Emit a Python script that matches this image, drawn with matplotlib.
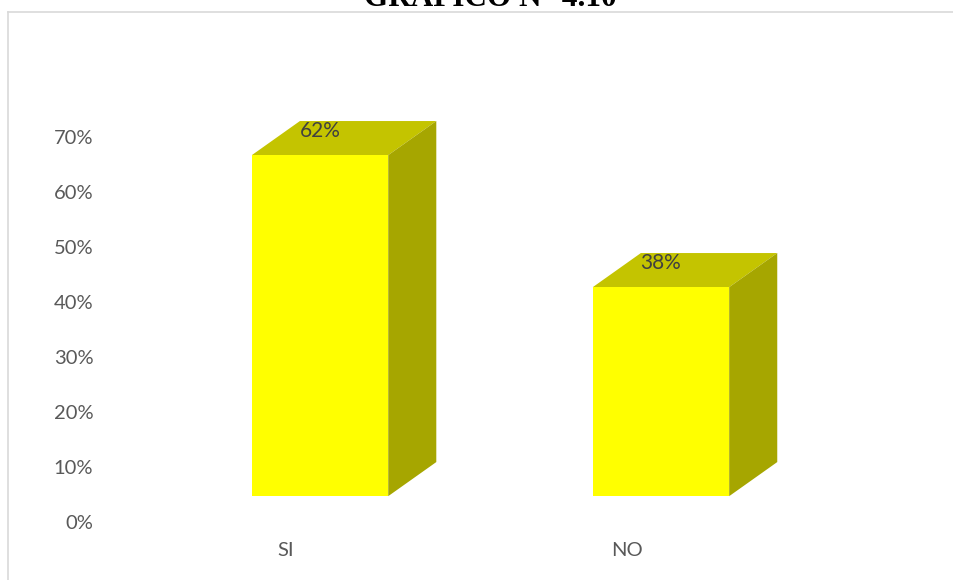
import matplotlib
matplotlib.use("Agg")
import matplotlib.pyplot as plt
from matplotlib.patches import Polygon

categories = ["SI", "NO"]
values = [62, 38]
labels = ["62%", "38%"]
yticks = [0, 10, 20, 30, 40, 50, 60, 70]
title = "GRÁFICO N° 4.10"

# 3d look (data units)
width = 0.40
depth_x = 0.141
depth_y = 6.2
floor = 4.7
front_c = "#FFFF00"
top_c = "#C4C400"
side_c = "#A6A600"
text_c = "#595959"

plt.rcParams['font.family'] = ['Lato', 'DejaVu Sans']

fig = plt.figure(figsize=(9.54, 5.80), dpi=100)
ax = fig.add_axes([110 / 954, 1 - 535 / 580, 790 / 954, 505 / 580])
ax.set_xlim(-0.616, 1.701)
ax.set_ylim(-2.36, 89.45)

for i, v in enumerate(values):
    x0 = i - width / 2
    x1 = i + width / 2
    y0 = floor
    y1 = floor + v
    ax.bar(i, v, width=width, bottom=floor, color=front_c, zorder=3)
    top = Polygon([(x0, y1), (x1, y1), (x1 + depth_x, y1 + depth_y),
                   (x0 + depth_x, y1 + depth_y)], closed=True,
                  facecolor=top_c, edgecolor='none', zorder=2)
    side = Polygon([(x1, y0), (x1 + depth_x, y0 + depth_y),
                    (x1 + depth_x, y1 + depth_y), (x1, y1)], closed=True,
                   facecolor=side_c, edgecolor='none', zorder=2)
    ax.add_patch(top)
    ax.add_patch(side)
    ax.text(i, y1 + depth_y * 0.72, labels[i], ha='center', va='center',
            fontsize=15, color="#404040", zorder=4)

ax.set_yticks(yticks)
ax.set_yticklabels([f"{t}%" for t in yticks])
ax.set_xticks([i - 0.1 for i in range(len(categories))])
ax.set_xticklabels(categories)
ax.tick_params(axis='y', length=0, pad=12, labelsize=14.5, labelcolor=text_c)
ax.tick_params(axis='x', length=0, pad=5, labelsize=14.5, labelcolor=text_c)
for s in ax.spines.values():
    s.set_visible(False)

# chart border (top and left visible)
fig.add_artist(plt.Line2D([8 / 954, 8 / 954], [0, 1 - 12 / 580],
                          transform=fig.transFigure, color="#D9D9D9", lw=1.2))
fig.add_artist(plt.Line2D([8 / 954, 1], [1 - 12 / 580, 1 - 12 / 580],
                          transform=fig.transFigure, color="#D9D9D9", lw=1.2))

fig.text(490 / 954, 1 - 6 / 580, title, ha='center', va='baseline',
         fontsize=22.5, fontweight='bold', family='Liberation Serif')

fig.savefig("out.png", dpi=100)
